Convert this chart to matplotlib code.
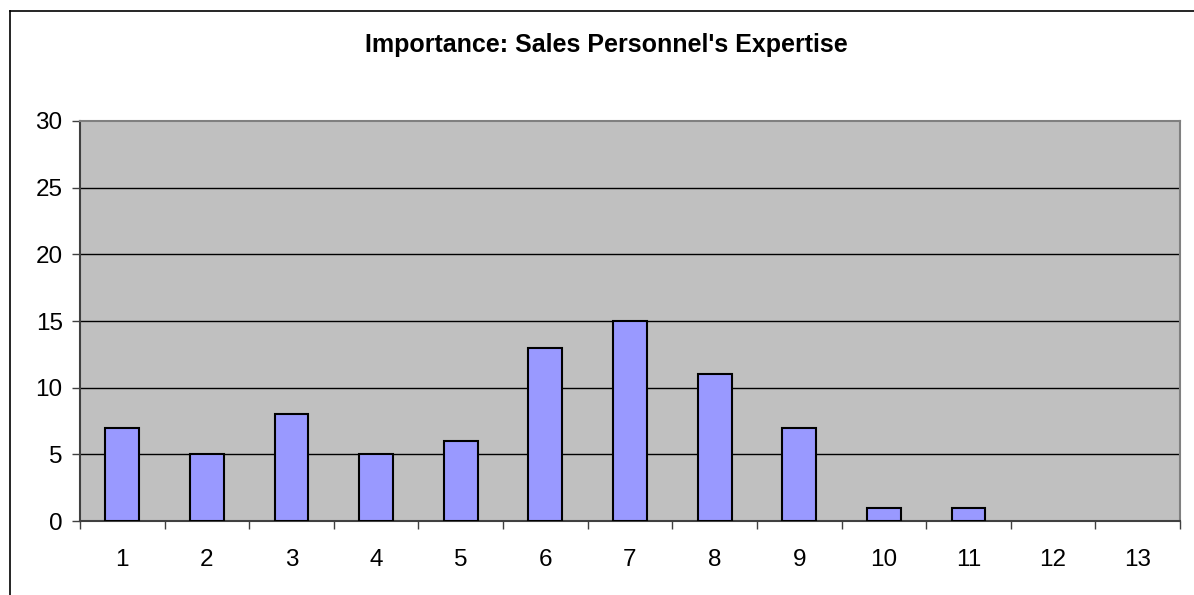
import numpy as np
import matplotlib.pyplot as plt
from matplotlib.lines import Line2D

categories = ["1", "2", "3", "4", "5", "6", "7", "8", "9", "10", "11", "12", "13"]
counts = [7, 5, 8, 5, 6, 13, 15, 11, 7, 1, 1, 0, 0]
y_ticks = [0, 5, 10, 15, 20, 25, 30]
title = "Importance: Sales Personnel's Expertise"

W, H = 1194, 595
fig = plt.figure(figsize=(W / 100, H / 100), dpi=100)
plt.rcParams['font.family'] = ['Liberation Sans', 'DejaVu Sans']

# plot area in pixels: left 80, right 1180, top 121, bottom 521
ax = fig.add_axes([80 / W, 1 - 521 / H, 1100 / W, 400 / H])
ax.set_facecolor("#c0c0c0")

x = np.arange(len(categories))
# zero-height bars get no outline, as in the original
edge_w = [1.5 if c > 0 else 0 for c in counts]
ax.bar(x, counts, width=0.4, color="#9999ff", edgecolor="black", linewidth=edge_w, zorder=3)

ax.set_xlim(-0.5, len(categories) - 0.5)
ax.set_ylim(0, 30)
ax.set_yticks(y_ticks)
ax.set_yticklabels([str(v) for v in y_ticks], fontsize=17.5)
ax.set_xticks(x)
ax.set_xticklabels(categories, fontsize=17.5)
ax.tick_params(axis="x", length=0, pad=20)
ax.tick_params(axis="y", length=6, width=1, color="#404040", pad=6.5)
# boundary ticks between categories
ax.set_xticks(np.arange(len(categories) + 1) - 0.5, minor=True)
ax.tick_params(axis="x", which="minor", length=6, width=1, color="#404040")

for v in y_ticks[1:-1]:
    ax.axhline(v, color="black", linewidth=1, zorder=1)

for side in ["left", "bottom"]:
    ax.spines[side].set_color("#404040")
    ax.spines[side].set_linewidth(1.5)
for side in ["top", "right"]:
    ax.spines[side].set_color("#808080")
    ax.spines[side].set_linewidth(1.5)

fig.text(606 / W, 1 - 45 / H, title, ha="center", va="center", fontsize=18, fontweight="bold")

# chart frame (only top and left visible)
fig.add_artist(Line2D([10 / W, 1], [1 - 11 / H, 1 - 11 / H], color="black", linewidth=1.2))
fig.add_artist(Line2D([10 / W, 10 / W], [0, 1 - 11 / H], color="black", linewidth=1.2))

fig.savefig("out.png", dpi=100)
